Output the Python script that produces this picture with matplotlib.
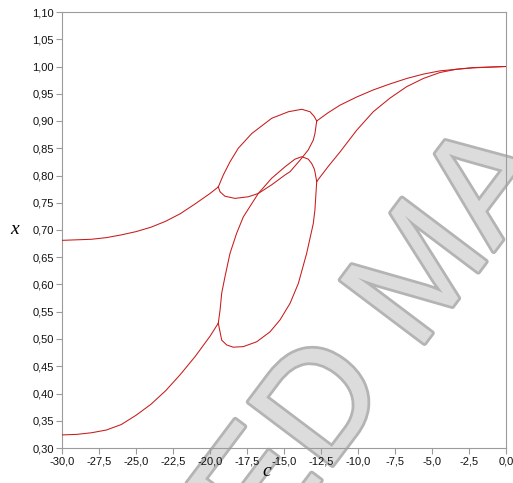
import numpy as np
import matplotlib
matplotlib.use('Agg')
import matplotlib.pyplot as plt
import matplotlib.patheffects as pe
from matplotlib.ticker import FuncFormatter, MultipleLocator

# branch before the bubble (period 2)
c_left = [-30, -29, -28, -27, -26, -25, -24, -23, -22, -21, -20, -19.44]
x_upper_left = [0.681, 0.682, 0.683, 0.686, 0.691, 0.697, 0.705, 0.716, 0.730, 0.748, 0.767, 0.779]
x_lower_left = [0.324, 0.325, 0.328, 0.333, 0.343, 0.360, 0.380, 0.405, 0.435, 0.468, 0.505, 0.529]

# period-doubled bubble, upper pair
c_a = [-19.44, -19.10, -18.65, -18.09, -17.18, -15.83, -14.70, -13.80, -13.24, -12.95, -12.79]
x_a = [0.779, 0.801, 0.825, 0.850, 0.877, 0.905, 0.917, 0.9215, 0.917, 0.908, 0.900]
c_b = [-19.44, -19.32, -18.99, -18.31, -17.41, -16.74, -15.83, -14.93, -14.59, -13.92, -13.36, -13.02, -12.91, -12.79]
x_b = [0.779, 0.770, 0.762, 0.758, 0.761, 0.767, 0.783, 0.801, 0.807, 0.828, 0.847, 0.865, 0.877, 0.900]

# period-doubled bubble, lower pair
c_c = [-19.44, -19.32, -19.21, -18.99, -18.65, -18.20, -17.75, -16.74, -15.83, -14.93, -14.26, -13.80, -13.36, -13.13, -12.97, -12.91, -12.79]
x_c = [0.529, 0.553, 0.584, 0.614, 0.657, 0.694, 0.724, 0.767, 0.795, 0.816, 0.830, 0.8345, 0.830, 0.822, 0.813, 0.807, 0.789]
c_d = [-19.44, -19.21, -18.87, -18.43, -17.75, -16.84, -15.95, -15.27, -14.59, -14.03, -13.47, -13.02, -12.91, -12.79]
x_d = [0.529, 0.498, 0.489, 0.485, 0.486, 0.495, 0.513, 0.535, 0.5655, 0.602, 0.657, 0.712, 0.737, 0.789]

# branch after the bubble
c_right = [-12.79, -12.03, -11.22, -10.09, -8.97, -7.84, -6.71, -5.59, -4.46, -3.33, -2.21, -1.0, 0.0]
x_upper_right = [0.900, 0.915, 0.929, 0.944, 0.957, 0.968, 0.978, 0.986, 0.992, 0.995, 0.998, 0.999, 1.000]
x_lower_right = [0.789, 0.816, 0.843, 0.883, 0.917, 0.942, 0.963, 0.978, 0.989, 0.995, 0.9975, 0.999, 1.000]

RED = '#c81a1a'
GREY = '#9c9c9c'

fig = plt.figure(figsize=(5.13, 4.83), dpi=100)
ax = fig.add_axes([62/513, 35/483, 444/513, 436/483])
ax.patch.set_alpha(0)

branches = [(c_left, x_upper_left), (c_left, x_lower_left),
            (c_a, x_a), (c_b, x_b), (c_c, x_c), (c_d, x_d),
            (c_right, x_upper_right), (c_right, x_lower_right)]
for cc, xx in branches:
    ax.plot(cc, xx, color=RED, lw=0.75, zorder=3)

ax.set_xlim(-30, 0)
ax.set_ylim(0.30, 1.10)
ax.xaxis.set_major_locator(MultipleLocator(2.5))
ax.yaxis.set_major_locator(MultipleLocator(0.05))
ax.xaxis.set_major_formatter(FuncFormatter(lambda v, p: ('%.1f' % v).replace('.', ',')))
ax.yaxis.set_major_formatter(FuncFormatter(lambda v, p: ('%.2f' % v).replace('.', ',')))

for s in ax.spines.values():
    s.set_color(GREY)
    s.set_linewidth(0.8)
ax.tick_params(direction='out', length=4, width=0.8, color=GREY,
               labelsize=8, labelcolor='#111111', pad=2)
for lab in ax.get_xticklabels() + ax.get_yticklabels():
    lab.set_family('Liberation Sans')

ax.set_xlabel('c', family='Liberation Serif', style='italic', fontsize=14)
ax.xaxis.label.set_va('center')
ax.xaxis.set_label_coords((267 - 62) / 444, (448 - 472) / 436)
ax.set_ylabel('x', family='Liberation Serif', style='italic', fontsize=14, rotation=0)
ax.yaxis.label.set_va('center')
ax.yaxis.label.set_ha('center')
ax.yaxis.set_label_coords((15 - 62) / 444, (448 - 230) / 436)

# watermark letters behind the axes content
ax.text(378/513, 1 - 340/483, 'ED MA', transform=fig.transFigure, rotation=53,
        ha='center', va='center', fontsize=110, family='Liberation Sans',
        color='#dcdcdc', zorder=0.5, clip_on=False,
        path_effects=[pe.Stroke(linewidth=4, foreground='#b4b4b4'), pe.Normal()])

plt.savefig('out.png', dpi=100)
